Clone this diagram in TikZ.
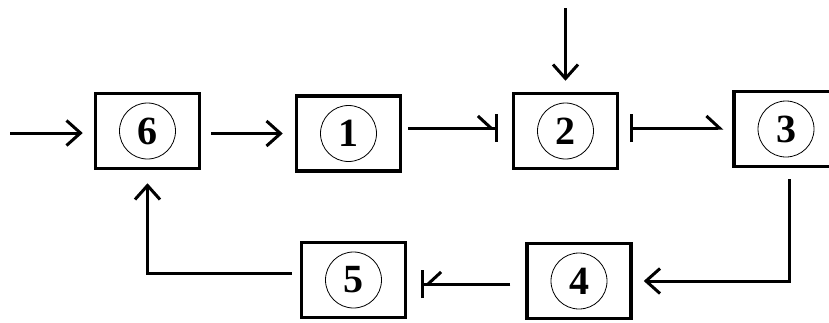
\documentclass[tikz,border=0pt]{standalone}
\usepackage{fontspec}
\setmainfont{Liberation Serif}
\usetikzlibrary{arrows.meta}
\begin{document}
\begin{tikzpicture}[x=1pt,y=-1pt,
  blk/.style={draw,line width=3.5pt,minimum width=104pt,minimum height=75pt,inner sep=0pt,
    font=\fontsize{40}{40}\selectfont\bfseries,
    path picture={\draw[line width=0.8pt] (path picture bounding box.center) circle (28pt);}},
  ln/.style={line width=3pt},
  vhead/.style={-{Straight Barb[length=14pt,width=25pt]}},
  upbar/.style={-{Straight Barb[left,sep=0pt,length=13pt,width=24pt]Bar[width=28pt]}},
  dnbar/.style={-{Straight Barb[right,sep=0pt,length=13pt,width=24pt]Bar[width=28pt]}},
  barhalf/.style={{Bar[width=28pt]}-{Straight Barb[left,length=13pt,width=24pt]}}
]
\useasboundingbox (0,0) rectangle (829,322);
\clip (0,0) rectangle (829,322);
\node[blk] (b6) at (147.5,131) {6};
\node[blk] (b1) at (348.5,133.5) {1};
\node[blk] (b2) at (565.5,131) {2};
\node[blk] (b3) at (786,129) {3};
\node[blk] (b4) at (579,281) {4};
\node[blk] (b5) at (353.5,280) {5};
\coordinate (in6) at (10,133);
\coordinate (top2) at (565.5,8);
\draw[ln,vhead,shorten >=11pt] (in6) -- (in6 -| b6.west);
\draw[ln,vhead,shorten <=10pt,shorten >=12pt] (b1.west -| b6.east) -- (b1.west);
\draw[ln,upbar,shorten <=6pt,shorten >=14pt] ([yshift=3pt]b2.west -| b1.east) -- ([yshift=3pt]b2.west);
\draw[ln,vhead,shorten >=11pt] (top2) -- (b2.north);
\draw[ln,barhalf,shorten <=11pt,shorten >=9pt] ([yshift=3pt]b2.east) -- ([yshift=3pt]b2.east -| b3.west);
\draw[ln,vhead,shorten <=11pt,shorten >=11pt] ([xshift=3pt]b3.south) |- (b4.east);
\draw[ln,dnbar,shorten <=15pt,shorten >=14pt] ([yshift=-3pt]b4.west) -- ([yshift=-3pt]b4.west -| b5.east);
\draw[ln,vhead,shorten <=8pt,shorten >=13pt] ([yshift=7pt]b5.west) -| (b6.south);
\end{tikzpicture}
\end{document}
